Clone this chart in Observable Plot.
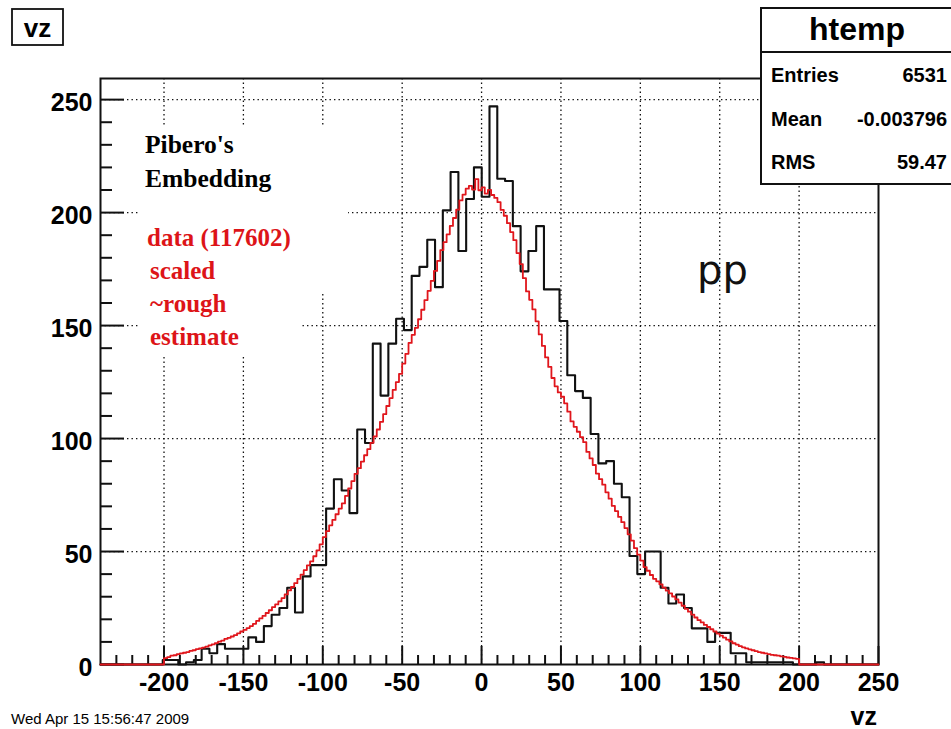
<!DOCTYPE html>
<html>
<head>
<meta charset="utf-8">
<script src="https://cdn.jsdelivr.net/npm/d3@7"></script>
<script src="https://cdn.jsdelivr.net/npm/@observablehq/plot@0.6"></script>
<style>
html, body { margin: 0; padding: 0; background: #fff; }
#chart svg { display: block; }
</style>
</head>
<body>
<div id="chart"></div>
<script>
// ---------- data ----------
// black histogram "htemp": 100 bins of width 4.9 from -240 to 250
const blackStart = -240;
const blackWidth = 4.9;
const blackCounts = [
  0, 0, 0, 0, 0, 0, 0, 0, 2, 2,
  0, 1, 2, 7, 5, 9, 7, 7, 7, 12,
  10, 17, 22, 25, 34, 23, 39, 44, 44, 69,
  82, 77, 67, 104, 98, 142, 119, 142, 153, 148,
  172, 176, 188, 167, 201, 218, 183, 206, 220, 207,
  247, 215, 214, 194, 174, 183, 194, 166, 166, 152,
  128, 121, 118, 102, 89, 90, 80, 74, 48, 40,
  50, 50, 34, 27, 31, 25, 16, 16, 10, 14,
  14, 5, 5, 1, 1, 1, 1, 1, 1, 0,
  0, 0, 1, 0, 0, 0, 0, 0, 0, 0
];

// red histogram (scaled data): 200 bins of width 2 from -200 to 200
const redStart = -200;
const redWidth = 2;
const redValues = [
  2.8, 3.3, 3.9, 4.1, 4.6, 4.9, 5.2, 5.5, 6.0, 6.3,
  6.8, 7.1, 7.5, 7.9, 8.5, 8.9, 9.5, 10.1, 10.6, 11.3,
  11.8, 12.4, 13.0, 13.8, 14.6, 15.3, 16.1, 17.0, 18.0, 19.3,
  20.4, 21.5, 22.8, 24.0, 25.4, 26.6, 27.9, 29.4, 31.0, 32.8,
  34.3, 36.0, 37.9, 39.8, 41.8, 43.9, 45.6, 47.9, 50.5, 53.2,
  56.4, 59.0, 61.6, 64.0, 66.5, 69.0, 71.3, 74.6, 77.9, 81.2,
  84.4, 86.9, 89.8, 92.6, 95.3, 98.1, 100.9, 104.0, 107.4, 110.8,
  114.4, 117.9, 121.5, 125.0, 128.6, 133.2, 137.5, 142.3, 145.9, 149.0,
  152.8, 157.0, 161.3, 165.4, 169.8, 174.2, 178.6, 183.4, 186.9, 190.4,
  194.1, 197.6, 201.3, 205.4, 208.0, 210.6, 211.8, 210.2, 214.8, 209.9,
  211.2, 208.4, 210.1, 207.8, 206.5, 204.6, 201.2, 198.6, 195.3, 191.4,
  187.8, 182.1, 177.2, 171.0, 165.1, 161.4, 157.2, 151.9, 146.1, 141.0,
  135.9, 131.7, 126.8, 123.1, 120.4, 118.5, 115.6, 111.9, 107.6, 105.2,
  103.0, 100.6, 98.4, 94.1, 91.2, 88.3, 84.5, 82.0, 79.6, 76.2,
  73.4, 70.2, 67.9, 65.3, 63.0, 60.4, 57.6, 54.8, 51.5, 48.6,
  46.0, 43.1, 41.5, 39.6, 37.9, 36.8, 35.5, 34.0, 32.7, 31.5,
  30.1, 28.8, 27.4, 26.0, 24.6, 23.4, 22.1, 20.8, 19.6, 18.6,
  17.5, 16.6, 15.6, 14.6, 13.7, 12.8, 11.9, 11.0, 10.2, 9.4,
  8.8, 8.1, 7.6, 7.1, 6.7, 6.3, 5.9, 5.5, 5.2, 4.9,
  4.6, 4.3, 4.1, 3.9, 3.6, 3.4, 3.1, 2.9, 2.7, 2.5
];

const xDomain = [-240, 250];
const yMax = 259.35; // 1.05 x the highest bin
const xMajorTicks = [-200, -150, -100, -50, 0, 50, 100, 150, 200, 250];
const yMajorTicks = [0, 50, 100, 150, 200, 250];
const xGridLines = [-200, -150, -100, -50, 0, 50, 100, 150, 200];
const yGridLines = [50, 100, 150, 200, 250];

const histTitle = "vz";
const xAxisTitle = "vz";
const statsTitle = "htemp";
const statsLabels = ["Entries", "Mean", "RMS"];
const statsValues = ["6531", "-0.003796", "59.47"];
const noteBlack = ["Pibero's", "Embedding"];
const noteRed = ["data (117602)", "scaled", "~rough", "estimate"];
const sideLabel = "pp";
const dateStamp = "Wed Apr 15 15:56:47 2009";

// ---------- derived step outlines ----------
const blackPts = blackCounts.map((c, k) => ({x: blackStart + k * blackWidth, y: c}));
blackPts.push({x: blackStart + blackCounts.length * blackWidth, y: blackCounts[blackCounts.length - 1]});

const redEnd = redStart + redValues.length * redWidth;
const redPts = [{x: xDomain[0], y: 0}]
  .concat(redValues.map((v, i) => ({x: redStart + i * redWidth, y: v})))
  .concat([{x: redEnd, y: 0}, {x: xDomain[1], y: 0}]);

const xMinorTicks = d3.range(-230, 250, 10).filter(d => d % 50 !== 0);
const yMinorTicks = d3.range(10, 255, 10).filter(d => d % 50 !== 0);

const INK = "#111";
const RED = "#e0161c";
const dots = "1.4,3.1";

const chart = Plot.plot({
  width: 951,
  height: 729,
  marginLeft: 100,
  marginRight: 73,
  marginTop: 78,
  marginBottom: 65,
  x: {domain: xDomain, axis: null},
  y: {domain: [0, yMax], axis: null},
  style: {fontFamily: "'Liberation Sans', Arial, sans-serif", background: "#fff", color: INK},
  marks: [
    Plot.ruleX(xGridLines, {stroke: INK, strokeWidth: 1.3, strokeDasharray: dots}),
    Plot.ruleY(yGridLines, {stroke: INK, strokeWidth: 1.3, strokeDasharray: dots}),
    Plot.frame({stroke: INK, strokeWidth: 2}),
    Plot.ruleX(xMajorTicks, {y1: 0, y2: 0, insetTop: -18, stroke: INK, strokeWidth: 2}),
    Plot.ruleX(xMinorTicks, {y1: 0, y2: 0, insetTop: -9, stroke: INK, strokeWidth: 2}),
    Plot.ruleY(yMajorTicks, {x1: xDomain[0], x2: xDomain[0], insetRight: -24, stroke: INK, strokeWidth: 2}),
    Plot.ruleY(yMinorTicks, {x1: xDomain[0], x2: xDomain[0], insetRight: -12, stroke: INK, strokeWidth: 2}),
    Plot.line(blackPts, {x: "x", y: "y", curve: "step-after", stroke: INK, strokeWidth: 2.1}),
    Plot.line(redPts, {x: "x", y: "y", curve: "step-after", stroke: RED, strokeWidth: 1.8}),
    Plot.text(xMajorTicks, {x: d => d, y: 0, text: d => String(d), lineAnchor: "top", dy: 9,
      fontSize: 25, fontWeight: "bold", fill: "#000"}),
    Plot.text(yMajorTicks, {x: xDomain[0], y: d => d, text: d => String(d), textAnchor: "end",
      dx: -8, dy: 3, fontSize: 25, fontWeight: "bold", fill: "#000"})
  ]
});

document.getElementById("chart").appendChild(chart);

// ---------- annotations (ROOT pave boxes) ----------
const svg = d3.select(chart);
const sans = "'Liberation Sans', Arial, sans-serif";
const serif = "'Liberation Serif', 'Times New Roman', serif";

function label(x, y, t, opts) {
  const o = Object.assign({anchor: "start", family: sans, weight: "normal", size: 20, fill: "#000"}, opts);
  return svg.append("text").attr("x", x).attr("y", y)
    .attr("text-anchor", o.anchor).attr("font-family", o.family)
    .attr("font-weight", o.weight).attr("font-size", o.size)
    .attr("fill", o.fill).text(t);
}

// white text panes hiding the grid
svg.append("rect").attr("x", 140).attr("y", 127).attr("width", 208).attr("height", 165).attr("fill", "#fff");
svg.append("rect").attr("x", 140).attr("y", 200).attr("width", 160).attr("height", 155).attr("fill", "#fff");

noteBlack.forEach((t, i) => label(145, 153 + i * 34, t, {family: serif, weight: "bold", size: 25.5}));
noteRed.forEach((t, i) => label(i === 0 ? 147 : 150, 246 + i * 33, t,
  {family: serif, weight: "bold", size: 25, fill: "#dd1418"}));

label(697, 284, sideLabel, {family: "'DejaVu Sans', sans-serif", size: 40, fill: "#111"});

// title box
svg.append("rect").attr("x", 12).attr("y", 9).attr("width", 51).attr("height", 36)
  .attr("fill", "#fff").attr("stroke", INK).attr("stroke-width", 1.8);
label(37.5, 37, histTitle, {anchor: "middle", weight: "bold", size: 26});

// stats box
svg.append("rect").attr("x", 761).attr("y", 8).attr("width", 200).attr("height", 176)
  .attr("fill", "#fff").attr("stroke", INK).attr("stroke-width", 2);
svg.append("line").attr("x1", 761).attr("x2", 951).attr("y1", 52).attr("y2", 52)
  .attr("stroke", INK).attr("stroke-width", 2);
label(857, 40, statsTitle, {anchor: "middle", weight: "bold", size: 32});
statsLabels.forEach((t, i) => {
  const yb = 82 + i * 43.5;
  label(771, yb, t, {weight: "bold", size: 20});
  label(947, yb, statsValues[i], {anchor: "end", weight: "bold", size: 20});
});

// axis title and date stamp at the bottom edge
label(877, 725, xAxisTitle, {anchor: "end", weight: "bold", size: 25});
label(11, 724, dateStamp, {size: 15});
</script>
</body>
</html>
